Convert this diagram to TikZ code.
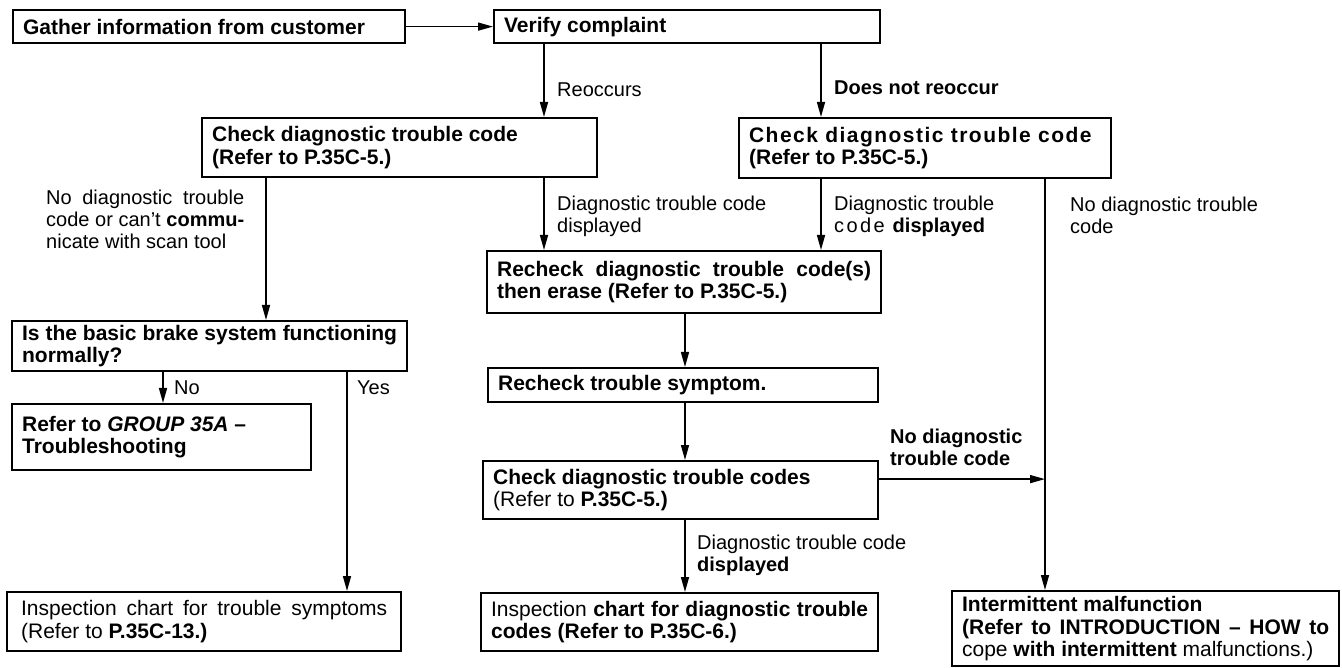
\documentclass[tikz,border=0pt]{standalone}
\usepackage{fontspec}
\setmainfont{Liberation Sans}
\usepackage{tikz}
\usetikzlibrary{arrows.meta}

\newcommand{\flowfont}{\fontsize{20}{22}\selectfont}
\newcommand{\boxfont}{\fontsize{21}{22.5}\selectfont}

\tikzset{
  box/.style={draw, line width=2.2pt, anchor=north west, inner xsep=10pt, inner ysep=0pt, align=justify, font=\boxfont\bfseries},
  lbl/.style={anchor=west, inner sep=0pt, align=left, font=\flowfont},
  arr/.style={line width=1.5pt, -{Triangle[length=15pt, width=8pt]}}
}

\begin{document}
\begin{tikzpicture}[x=1pt, y=-1pt]
        \useasboundingbox (0,0) rectangle (1342,668);
        % Columns of the vertical connectors
        \coordinate (leftX) at (266,0);
        \coordinate (noX) at (163,0);
        \coordinate (yesX) at (347,0);
        \coordinate (reocX) at (544,0);
        \coordinate (midX) at (685,0);
        \coordinate (notX) at (821,0);
        \coordinate (sideX) at (1045,0);
        % Top row
        \node[box, text width=372pt, minimum height=33pt] (gather) at (12,9) {Gather information from customer};
        \node[box, text width=366pt, minimum height=33pt] (verify) at (493,9) {Verify complaint};
        % Code checks
        \node[box, text width=375pt, minimum height=59pt] (chkA) at (201,117) {Check diagnostic trouble code\\(Refer to P.35C-5.)};
        \node[box, text width=352pt, minimum height=60pt] (chkB) at (738,117) {{\addfontfeature{LetterSpace=7}Check diagnostic trouble code}\\(Refer to P.35C-5.)};
        % Middle column
        \node[box, text width=374pt, minimum height=62pt] (recheck) at (486,250) {Recheck diagnostic trouble code(s)\linebreak then erase (Refer to P.35C-5.)};
        \node[box, text width=370pt, minimum height=34pt] (symptom) at (487,367) {Recheck trouble symptom.};
        \node[box, text width=375pt, minimum height=58pt] (codes) at (482,460) {Check diagnostic trouble codes\\\mdseries(Refer to \textbf{P.35C-5.)}};
        \node[box, text width=377pt, minimum height=58pt] (inspB) at (480,592) {\mdseries Inspection \bfseries chart for diagnostic trouble\linebreak codes (Refer to P.35C-6.)};
        % Left column
        \node[box, text width=375pt, minimum height=50pt] (brake) at (11,320) {Is the basic brake system functioning\linebreak normally?};
        \node[box, text width=279pt, minimum height=66pt] (group) at (11,403) {Refer to \textit{GROUP 35A} --\\Troubleshooting};
        \node[box, text width=366pt, minimum height=59pt, inner xsep=14pt, font=\boxfont] (inspA) at (6,591) {Inspection chart for trouble symptoms\linebreak (Refer to \textbf{P.35C-13.)}};
        % Right column
        \node[box, text width=367pt, minimum height=75pt] (interm) at (951,590) {Intermittent malfunction\\(Refer to INTRODUCTION -- HOW to\linebreak \parfillskip=0pt \mdseries cope \bfseries with intermittent \mdseries malfunctions.)};
        % Branch labels
        \node[lbl] (reocLbl) at (557,90) {Reoccurs};
        \node[lbl, font=\flowfont\bfseries] (notLbl) at (834,88) {Does not reoccur};
        \node[lbl, anchor=north west, text width=198pt, align=justify] (nodtcA) at (46,190) {No diagnostic trouble\linebreak code or can't \textbf{commu-}\linebreak nicate with scan tool\parfillskip=0pt};
        \node[lbl] (dtcA) at (557,216) {Diagnostic trouble code\\displayed};
        \node[lbl] (dtcB) at (834,216) {Diagnostic trouble\\{\addfontfeature{LetterSpace=12}code} \textbf{displayed}};
        \node[lbl] (nodtcB) at (1070,215) {No diagnostic trouble\\code};
        \node[lbl] (noLbl) at (174,388) {No};
        \node[lbl] (yesLbl) at (357,388) {Yes};
        \node[lbl, font=\flowfont\bfseries] (nodtcC) at (890,447) {No diagnostic\\trouble code};
        \node[lbl] (dtcC) at (697,555) {Diagnostic trouble code\\\textbf{displayed}};
        % Connectors
        \draw[arr] (gather) -- (verify);
        \draw[arr] (verify.south -| reocX) -- (chkA.north -| reocX);
        \draw[arr] (verify.south -| notX) -- (chkB.north -| notX);
        \draw[arr] (chkA.south -| leftX) -- (brake.north -| leftX);
        \draw[arr] (chkA.south -| reocX) -- (recheck.north -| reocX);
        \draw[arr] (chkB.south -| notX) -- (recheck.north -| notX);
        \draw[arr] (chkB.south -| sideX) -- (interm.north -| sideX);
        \draw[arr] (recheck.south -| midX) -- (symptom.north -| midX);
        \draw[arr] (symptom.south -| midX) -- (codes.north -| midX);
        \draw[arr] (codes.south -| midX) -- (inspB.north -| midX);
        \draw[arr] ([yshift=11pt]codes.east) -- ([yshift=11pt]codes.east -| sideX);
        \draw[arr] (brake.south -| noX) -- (group.north -| noX);
        \draw[arr] (brake.south -| yesX) -- (inspA.north -| yesX);
    \end{tikzpicture}
\end{document}
